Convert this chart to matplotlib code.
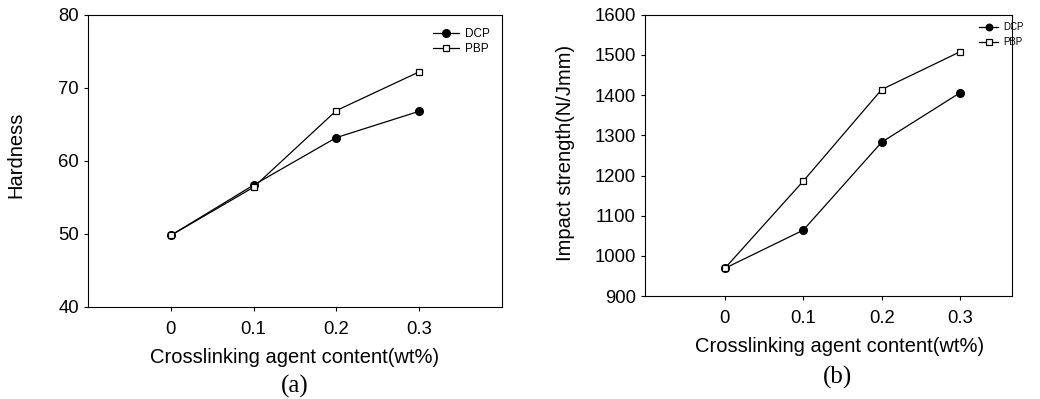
import matplotlib
matplotlib.use("Agg")
import matplotlib.pyplot as plt

plt.rcParams['font.family'] = ['Liberation Sans', 'DejaVu Sans']

content = [0, 0.1, 0.2, 0.3]
xticklabels = ['0', '0.1', '0.2', '0.3']

hard_dcp = [49.8, 56.7, 63.2, 66.8]
hard_pbp = [49.8, 56.4, 66.9, 72.2]

impact_dcp = [969, 1064, 1283, 1406]
impact_pbp = [969, 1186, 1414, 1508]

fig = plt.figure(figsize=(10.4, 3.99), dpi=100)
ax1 = fig.add_axes([0.0846, 0.2306, 0.398, 0.732])
ax2 = fig.add_axes([0.620, 0.258, 0.353, 0.705])


def draw(ax, dcp, pbp, ylim, yticks, ylabel):
    ax.plot(content, dcp, '-', color='black', lw=0.9, marker='o', ms=5.5,
            mfc='black', mec='black', label='DCP')
    ax.plot(content, pbp, '-', color='black', lw=0.9, marker='s', ms=5,
            mfc='white', mec='black', mew=0.9, label='PBP')
    ax.set_ylim(*ylim)
    ax.set_yticks(yticks)
    ax.set_xticks(content)
    ax.set_xticklabels(xticklabels)
    ax.tick_params(direction='out', length=3, width=0.8, labelsize=13.3)
    ax.tick_params(axis='x', pad=7)
    ax.set_xlabel('Crosslinking agent content(wt%)', fontsize=14.5)
    ax.set_ylabel(ylabel, fontsize=14.5)
    for s in ax.spines.values():
        s.set_linewidth(0.8)


draw(ax1, hard_dcp, hard_pbp, (40, 80), [40, 50, 60, 70, 80], 'Hardness')
ax1.set_xlim(-0.1, 0.4)
ax1.xaxis.set_label_coords(0.5, -0.140)
ax1.yaxis.set_label_coords(-0.152, 0.52)
ax1.legend(loc='upper left', bbox_to_anchor=(433 / 1040, 1 - 28 / 399),
           bbox_transform=fig.transFigure, frameon=False, fontsize=8.5,
           handlelength=2.2, handletextpad=0.5, labelspacing=0.25,
           borderpad=0, borderaxespad=0)

draw(ax2, impact_dcp, impact_pbp, (900, 1600),
     [900, 1000, 1100, 1200, 1300, 1400, 1500, 1600], 'Impact strength(N/Jmm)')
ax2.set_xlim(-0.102, 0.366)
ax2.xaxis.set_label_coords(0.53, -0.146)
ax2.yaxis.set_label_coords(-0.191, 0.51)
ax2.legend(loc='upper left', bbox_to_anchor=(979 / 1040, 1 - 22 / 399),
           bbox_transform=fig.transFigure, frameon=False, fontsize=7,
           handlelength=2.0, handletextpad=0.5, labelspacing=0.55,
           borderpad=0, borderaxespad=0, markerscale=0.85)

fig.text(295 / 1040, 1 - 386 / 399, '(a)', ha='center', va='center',
         fontsize=18, family='Liberation Serif')
fig.text(838 / 1040, 1 - 377 / 399, '(b)', ha='center', va='center',
         fontsize=18, family='Liberation Serif')

fig.savefig('out.png', dpi=100)
